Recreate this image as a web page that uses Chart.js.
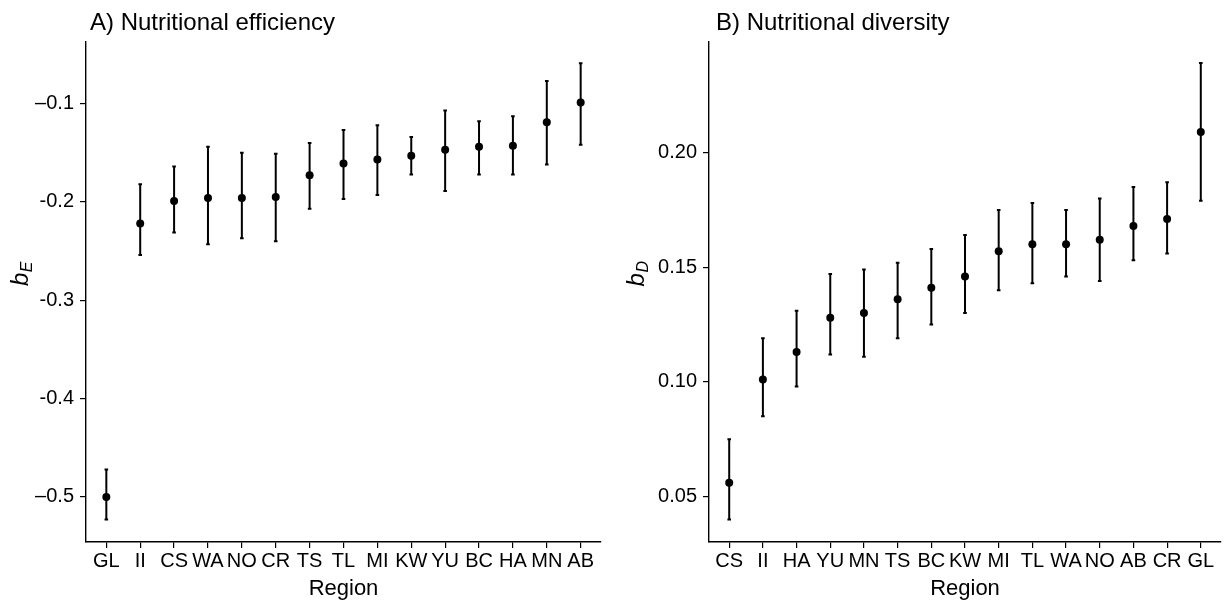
<!DOCTYPE html>
<html>
<head>
<meta charset="utf-8">
<title>Nutritional efficiency and diversity by region</title>
<script src="https://cdn.jsdelivr.net/npm/chart.js@4.4.1/dist/chart.umd.min.js"></script>
<style>
  body { margin: 0; background: #fff; }
  #wrap { position: relative; width: 1225px; height: 603px; }
  canvas { position: absolute; top: 0; }
</style>
</head>
<body>
<div id="wrap">
  <canvas id="panelA" width="612" height="603" style="left:0"></canvas>
  <canvas id="panelB" width="613" height="603" style="left:612px"></canvas>
</div>

<script>
// Panel A: nutritional efficiency (estimate with lower / upper bounds)
const regionsA = ['GL', 'II', 'CS', 'WA', 'NO', 'CR', 'TS', 'TL', 'MI', 'KW', 'YU', 'BC', 'HA', 'MN', 'AB'];
const estA  = [-0.500, -0.222, -0.199, -0.196, -0.196, -0.195, -0.173, -0.161, -0.157, -0.153, -0.147, -0.144, -0.143, -0.119, -0.099];
const lowA  = [-0.523, -0.254, -0.231, -0.243, -0.237, -0.240, -0.207, -0.197, -0.193, -0.172, -0.189, -0.172, -0.172, -0.162, -0.142];
const highA = [-0.472, -0.182, -0.164, -0.144, -0.150, -0.151, -0.140, -0.127, -0.122, -0.134, -0.107, -0.118, -0.113, -0.077, -0.059];
const yTicksA = [-0.5, -0.4, -0.3, -0.2, -0.1];
const yLabelsA = ['\u20130.5', '-0.4', '-0.3', '-0.2', '\u20130.1'];

// Panel B: nutritional diversity
const regionsB = ['CS', 'II', 'HA', 'YU', 'MN', 'TS', 'BC', 'KW', 'MI', 'TL', 'WA', 'NO', 'AB', 'CR', 'GL'];
const estB  = [0.056, 0.101, 0.113, 0.128, 0.130, 0.136, 0.141, 0.146, 0.157, 0.160, 0.160, 0.162, 0.168, 0.171, 0.209];
const lowB  = [0.040, 0.085, 0.098, 0.112, 0.111, 0.119, 0.125, 0.130, 0.140, 0.143, 0.146, 0.144, 0.153, 0.156, 0.179];
const highB = [0.075, 0.119, 0.131, 0.147, 0.149, 0.152, 0.158, 0.164, 0.175, 0.178, 0.175, 0.180, 0.185, 0.187, 0.239];
const yTicksB = [0.05, 0.10, 0.15, 0.20];
const yLabelsB = ['0.05', '0.10', '0.15', '0.20'];

const FONT = '"Liberation Sans", Arial, Helvetica, sans-serif';

// vertical error bars with tiny caps, drawn under the points
const errorBars = {
  id: 'errorBars',
  beforeDatasetsDraw(chart, args, opts) {
    const {ctx, scales: {x, y}} = chart;
    ctx.save();
    ctx.strokeStyle = '#000';
    ctx.lineWidth = 2;
    opts.low.forEach((lo, i) => {
      const px = x.getPixelForValue(i);
      const y1 = y.getPixelForValue(lo);
      const y2 = y.getPixelForValue(opts.high[i]);
      ctx.beginPath();
      ctx.moveTo(px, y1); ctx.lineTo(px, y2);
      ctx.moveTo(px - 1.8, y1); ctx.lineTo(px + 1.8, y1);
      ctx.moveTo(px - 1.8, y2); ctx.lineTo(px + 1.8, y2);
      ctx.stroke();
    });
    ctx.restore();
  }
};

// panel title and italic y title with a subscript
const panelText = {
  id: 'panelText',
  afterDraw(chart, args, opts) {
    const {ctx, chartArea} = chart;
    ctx.save();
    ctx.fillStyle = '#000';
    ctx.textBaseline = 'alphabetic';
    ctx.font = '24px ' + FONT;
    ctx.fillText(opts.title, chartArea.left + opts.titleDx, 30);

    ctx.translate(opts.yTitleX, opts.yTitleY);
    ctx.rotate(-Math.PI / 2);
    ctx.font = 'italic 24px ' + FONT;
    const wb = ctx.measureText('b').width;
    ctx.font = 'italic 16px ' + FONT;
    const ws = ctx.measureText(opts.sub).width;
    const x0 = -(wb + ws) / 2;
    ctx.font = 'italic 24px ' + FONT;
    ctx.fillText('b', x0, 8);
    ctx.font = 'italic 16px ' + FONT;
    ctx.fillText(opts.sub, x0 + wb + 0.5, 12);
    ctx.restore();
  }
};

function makePanel(id, p) {
  const points = p.est.map((v, i) => ({x: i, y: v}));
  return new Chart(document.getElementById(id), {
    type: 'scatter',
    data: {
      datasets: [{
        data: points,
        backgroundColor: '#000',
        borderWidth: 0,
        pointRadius: 4,
        pointHoverRadius: 4
      }]
    },
    options: {
      responsive: false,
      animation: false,
      events: [],
      layout: { padding: { top: 42, right: p.padRight, bottom: 0, left: 0 } },
      plugins: {
        legend: { display: false },
        tooltip: { enabled: false },
        errorBars: { low: p.low, high: p.high },
        panelText: { title: p.title, titleDx: p.titleDx, sub: p.sub, yTitleX: p.yTitleX, yTitleY: 274 }
      },
      scales: {
        x: {
          type: 'linear',
          min: -0.6,
          max: p.cats.length - 0.4,
          afterBuildTicks: s => { s.ticks = p.cats.map((c, i) => ({value: i})); },
          afterFit: s => { s.height = 61; },
          ticks: {
            color: '#000',
            font: { family: FONT, size: 20 },
            padding: 1,
            maxRotation: 0,
            autoSkip: false,
            callback: v => p.cats[v]
          },
          grid: { drawOnChartArea: false, drawTicks: true, tickLength: 6, color: '#000', lineWidth: 1.2 },
          border: { display: true, color: '#000', width: 1.4 },
          title: {
            display: true,
            text: 'Region',
            color: '#000',
            font: { family: FONT, size: 22 },
            padding: { top: 0, bottom: 1 }
          }
        },
        y: {
          min: p.yMin,
          max: p.yMax,
          afterBuildTicks: s => { s.ticks = p.yTicks.map(v => ({value: v})); },
          afterFit: s => { s.width = p.yAxisWidth; },
          ticks: {
            color: '#000',
            font: { family: FONT, size: 20 },
            padding: 6,
            callback: v => p.yLabels[p.yTicks.findIndex(t => Math.abs(t - v) < 1e-9)]
          },
          grid: { drawOnChartArea: false, drawTicks: true, tickLength: 6, color: '#000', lineWidth: 1.2 },
          border: { display: true, color: '#000', width: 1.4 }
        }
      }
    },
    plugins: [errorBars, panelText]
  });
}

makePanel('panelA', {
  title: 'A) Nutritional efficiency', titleDx: 4, sub: 'E', yTitleX: 20,
  cats: regionsA, est: estA, low: lowA, high: highA,
  yMin: -0.5458, yMax: -0.0374, yTicks: yTicksA, yLabels: yLabelsA,
  yAxisWidth: 86, padRight: 11
});

makePanel('panelB', {
  title: 'B) Nutritional diversity', titleDx: 7, sub: 'D', yTitleX: 24,
  cats: regionsB, est: estB, low: lowB, high: highB,
  yMin: 0.0302, yMax: 0.2482, yTicks: yTicksB, yLabels: yLabelsB,
  yAxisWidth: 97, padRight: 0
});
</script>
</body>
</html>
